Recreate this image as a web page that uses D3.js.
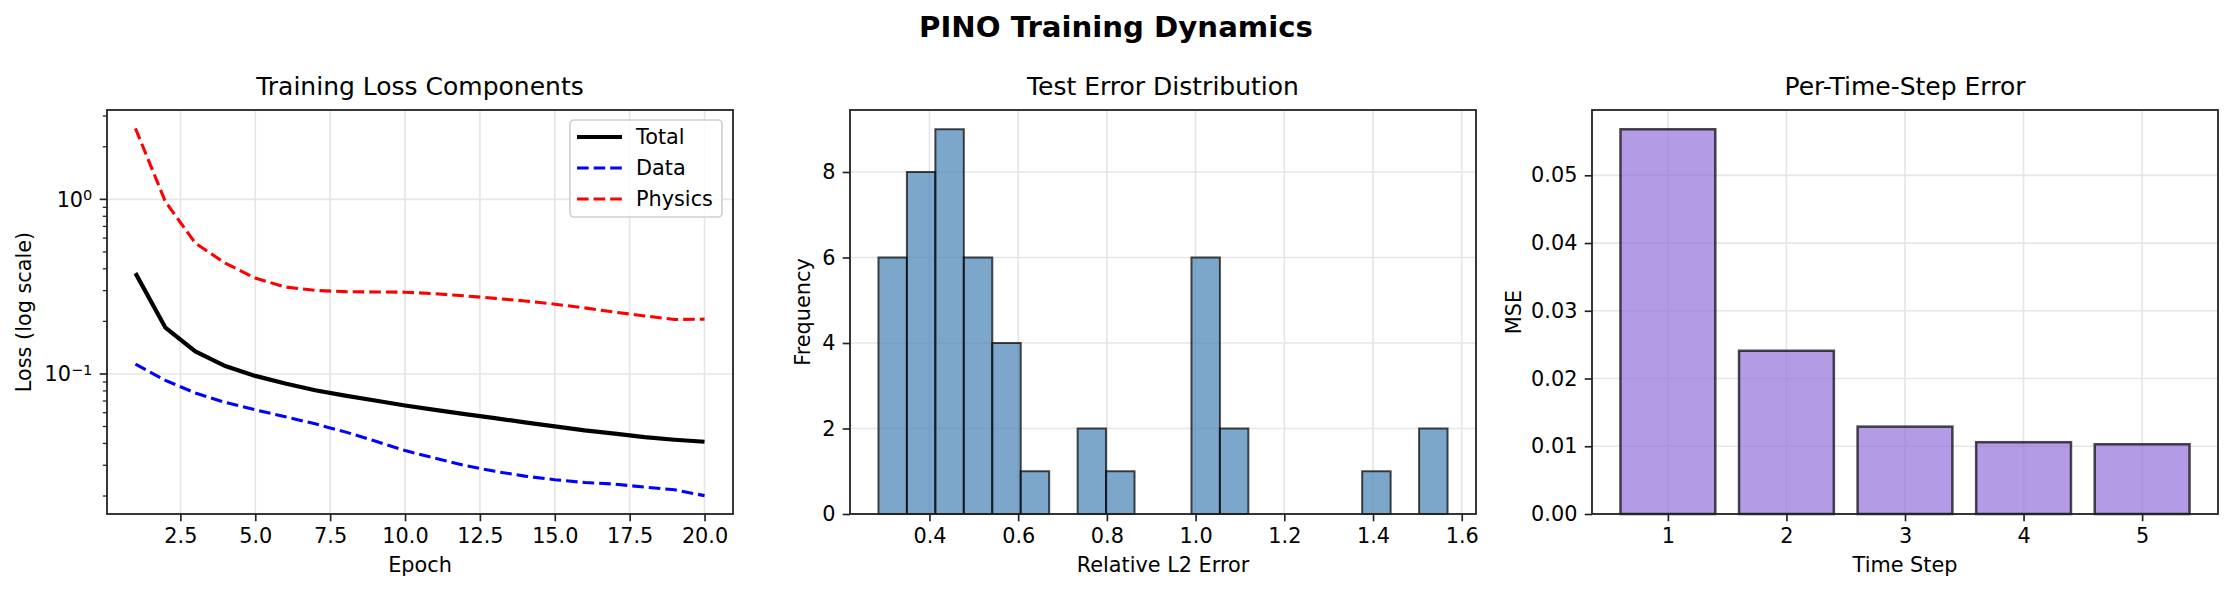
<!DOCTYPE html>
<html>
<head>
<meta charset="utf-8">
<script src="https://cdn.jsdelivr.net/npm/d3@7"></script>
<style>
  body { margin: 0; background: #fff; }
  svg text { font-family: "DejaVu Sans", sans-serif; fill: #000; }
</style>
</head>
<body>
<svg id="chart" width="2233" height="593"></svg>
<script>
// Data
var epochs = [1,2,3,4,5,6,7,8,9,10,11,12,13,14,15,16,17,18,19,20];
var totalLoss = [0.378,0.184,0.1346,0.111,0.0975,0.0881,0.0807,0.0752,0.0705,0.0660,0.0623,0.0589,0.0559,0.0528,0.0501,0.0475,0.0455,0.0435,0.0420,0.0409];
var dataLoss = [0.1138,0.0919,0.0778,0.0687,0.0623,0.0569,0.0518,0.0466,0.0413,0.0364,0.0329,0.0299,0.0277,0.0260,0.0248,0.0239,0.0234,0.0225,0.0217,0.0201];
var physicsLoss = [2.55,0.97,0.561,0.431,0.354,0.315,0.301,0.296,0.295,0.294,0.288,0.280,0.271,0.262,0.251,0.239,0.226,0.215,0.205,0.206];
var lossTicks = [2.5,5.0,7.5,10.0,12.5,15.0,17.5,20.0];

var histMin = 0.285, histMax = 1.568;
var histCounts = [6,8,9,6,4,1,0,2,1,0,0,6,2,0,0,0,0,1,0,2];
var histXTicks = [0.4,0.6,0.8,1.0,1.2,1.4,1.6];
var histYTicks = [0,2,4,6,8];

var timeSteps = [1,2,3,4,5];
var stepMse = [0.0568,0.0241,0.0129,0.0106,0.0103];
var mseTicks = [0,0.01,0.02,0.03,0.04,0.05];

// Layout
var svg = d3.select("#chart");
var panelLeft = [107, 850, 1592];
var panelTop = 110, panelW = 626, panelH = 404;
var tickLen = 7.3, tickPad = 7.3, fontPx = 20.8;
var gridColor = "#e6e6e6", spineColor = "#222";

svg.append("rect").attr("width", 2233).attr("height", 593).style("fill", "#fff");

svg.append("text")
   .attr("x", 1116).attr("y", 37)
   .attr("text-anchor", "middle")
   .style("font-size", "29.2px").style("font-weight", "bold")
   .text("PINO Training Dynamics");

var makePanel = function(i, title, xLabel, yLabel, yLabelX) {
  var g = svg.append("g").attr("transform", "translate(" + panelLeft[i] + "," + panelTop + ")");
  g.append("text").attr("x", panelW/2).attr("y", -15)
   .attr("text-anchor", "middle").style("font-size", "25px").text(title);
  g.append("text").attr("x", panelW/2).attr("y", 462)
   .attr("text-anchor", "middle").style("font-size", fontPx + "px").text(xLabel);
  g.append("text")
   .attr("transform", "translate(" + (yLabelX - panelLeft[i]) + "," + (panelH/2) + ") rotate(-90)")
   .attr("dy", "0.35em")
   .attr("text-anchor", "middle").style("font-size", fontPx + "px").text(yLabel);
  return g;
};

var styleAxis = function(sel) {
  sel.select(".domain").remove();
  sel.selectAll(".tick line").style("stroke", spineColor).style("stroke-width", 1.67);
  sel.selectAll(".tick text").style("font-size", fontPx + "px").style("font-family", "DejaVu Sans").style("fill", "#000");
};

var drawFrame = function(g) {
  g.append("rect").attr("width", panelW).attr("height", panelH)
   .style("fill", "none").style("stroke", spineColor).style("stroke-width", 1.8);
};

// ---------- Panel 1: losses (log scale)
var g1 = makePanel(0, "Training Loss Components", "Epoch", "Loss (log scale)", 24);
var eExt = d3.extent(epochs);
var ePad = (eExt[1]-eExt[0])*0.05;
var x1 = d3.scaleLinear().domain([eExt[0]-ePad, eExt[1]+ePad]).range([0, panelW]);
var allLoss = totalLoss.concat(dataLoss, physicsLoss);
var lMin = Math.log10(d3.min(allLoss)), lMax = Math.log10(d3.max(allLoss));
var lPad = (lMax - lMin)*0.05;
var y1 = d3.scaleLog().domain([Math.pow(10, lMin-lPad), Math.pow(10, lMax+lPad)]).range([panelH, 0]);

var logTicks = y1.ticks();
var majorLog = logTicks.filter(function(d) { return Math.abs(Math.log10(d) - Math.round(Math.log10(d))) < 1e-9; });
var minorLog = logTicks.filter(function(d) { return majorLog.indexOf(d) < 0; });

g1.selectAll(".gx").data(lossTicks).enter().append("line")
  .attr("x1", function(d) { return x1(d); }).attr("x2", function(d) { return x1(d); })
  .attr("y1", 0).attr("y2", panelH).style("stroke", gridColor).style("stroke-width", 1.67);
g1.selectAll(".gy").data(majorLog).enter().append("line")
  .attr("x1", 0).attr("x2", panelW)
  .attr("y1", function(d) { return y1(d); }).attr("y2", function(d) { return y1(d); })
  .style("stroke", gridColor).style("stroke-width", 1.67);

var ax1 = g1.append("g").attr("transform", "translate(0," + panelH + ")")
  .call(d3.axisBottom(x1).tickValues(lossTicks).tickFormat(d3.format(".1f")).tickSize(tickLen).tickPadding(tickPad));
styleAxis(ax1);

g1.selectAll(".minorTick").data(minorLog).enter().append("line")
  .attr("x1", -4.2).attr("x2", 0)
  .attr("y1", function(d) { return y1(d); }).attr("y2", function(d) { return y1(d); })
  .style("stroke", spineColor).style("stroke-width", 1.25);
g1.selectAll(".majorTick").data(majorLog).enter().append("line")
  .attr("x1", -tickLen).attr("x2", 0)
  .attr("y1", function(d) { return y1(d); }).attr("y2", function(d) { return y1(d); })
  .style("stroke", spineColor).style("stroke-width", 1.67);
var majorLabels = g1.selectAll(".majorLabel").data(majorLog).enter().append("text")
  .attr("x", -tickLen - tickPad)
  .attr("y", function(d) { return y1(d); })
  .attr("dy", "0.35em")
  .attr("text-anchor", "end")
  .style("font-size", fontPx + "px");
majorLabels.append("tspan").text("10");
majorLabels.append("tspan")
  .attr("dy", "-0.45em")
  .style("font-size", "14.6px")
  .text(function(d) { var p = Math.round(Math.log10(d)); return p < 0 ? "\u2212" + (-p) : "" + p; });

var line1 = function(vals) {
  return d3.line().x(function(d, i) { return x1(epochs[i]); }).y(function(d) { return y1(d); })(vals);
};
var lossSeries = [
  { name: "Total", vals: totalLoss, color: "#000", width: 4.2, dash: null },
  { name: "Data", vals: dataLoss, color: "#0000ff", width: 3.1, dash: "11.6,5" },
  { name: "Physics", vals: physicsLoss, color: "#ff0000", width: 3.1, dash: "11.6,5" }
];
lossSeries.forEach(function(s) {
  g1.append("path").attr("d", line1(s.vals))
    .style("fill", "none").style("stroke", s.color).style("stroke-width", s.width)
    .style("stroke-dasharray", s.dash);
});
drawFrame(g1);

// Legend
var leg = g1.append("g").attr("transform", "translate(463,10)");
leg.append("rect").attr("width", 152).attr("height", 97).attr("rx", 4)
   .style("fill", "#fff").style("fill-opacity", 0.8).style("stroke", "#d0d0d0").style("stroke-width", 1.67);
lossSeries.forEach(function(s, i) {
  var yy = 17 + i*31;
  leg.append("line").attr("x1", 7).attr("x2", 52).attr("y1", yy).attr("y2", yy)
     .style("stroke", s.color).style("stroke-width", s.width).style("stroke-dasharray", s.dash);
  leg.append("text").attr("x", 66).attr("y", yy).attr("dy", "0.35em")
     .style("font-size", fontPx + "px").text(s.name);
});

// ---------- Panel 2: histogram
var g2 = makePanel(1, "Test Error Distribution", "Relative L2 Error", "Frequency", 803);
var hPad = (histMax - histMin)*0.05;
var x2 = d3.scaleLinear().domain([histMin - hPad, histMax + hPad]).range([0, panelW]);
var y2 = d3.scaleLinear().domain([0, d3.max(histCounts)*1.05]).range([panelH, 0]);
var binW = (histMax - histMin)/histCounts.length;

g2.selectAll(".gx").data(histXTicks).enter().append("line")
  .attr("x1", function(d) { return x2(d); }).attr("x2", function(d) { return x2(d); })
  .attr("y1", 0).attr("y2", panelH).style("stroke", gridColor).style("stroke-width", 1.67);
g2.selectAll(".gy").data(histYTicks).enter().append("line")
  .attr("x1", 0).attr("x2", panelW)
  .attr("y1", function(d) { return y2(d); }).attr("y2", function(d) { return y2(d); })
  .style("stroke", gridColor).style("stroke-width", 1.67);

var bins = histCounts.map(function(c, i) { return { x0: histMin + i*binW, x1: histMin + (i+1)*binW, count: c }; })
  .filter(function(d) { return d.count > 0; });
g2.selectAll(".bar").data(bins).enter().append("rect")
  .attr("x", function(d) { return x2(d.x0); })
  .attr("width", function(d) { return x2(d.x1) - x2(d.x0); })
  .attr("y", function(d) { return y2(d.count); })
  .attr("height", function(d) { return y2(0) - y2(d.count); })
  .style("fill", "steelblue").style("fill-opacity", 0.7)
  .style("stroke", "#000").style("stroke-opacity", 0.7).style("stroke-width", 2);

var ax2x = g2.append("g").attr("transform", "translate(0," + panelH + ")")
  .call(d3.axisBottom(x2).tickValues(histXTicks).tickFormat(d3.format(".1f")).tickSize(tickLen).tickPadding(tickPad));
styleAxis(ax2x);
var ax2y = g2.append("g")
  .call(d3.axisLeft(y2).tickValues(histYTicks).tickFormat(d3.format("d")).tickSize(tickLen).tickPadding(tickPad));
styleAxis(ax2y);
drawFrame(g2);

// ---------- Panel 3: per-step MSE
var g3 = makePanel(2, "Per-Time-Step Error", "Time Step", "MSE", 1514);
var barHalf = 0.4;
var sExt = [d3.min(timeSteps) - barHalf, d3.max(timeSteps) + barHalf];
var sPad = (sExt[1]-sExt[0])*0.05;
var x3 = d3.scaleLinear().domain([sExt[0]-sPad, sExt[1]+sPad]).range([0, panelW]);
var y3 = d3.scaleLinear().domain([0, d3.max(stepMse)*1.05]).range([panelH, 0]);

g3.selectAll(".gx").data(timeSteps).enter().append("line")
  .attr("x1", function(d) { return x3(d); }).attr("x2", function(d) { return x3(d); })
  .attr("y1", 0).attr("y2", panelH).style("stroke", gridColor).style("stroke-width", 1.67);
g3.selectAll(".gy").data(mseTicks).enter().append("line")
  .attr("x1", 0).attr("x2", panelW)
  .attr("y1", function(d) { return y3(d); }).attr("y2", function(d) { return y3(d); })
  .style("stroke", gridColor).style("stroke-width", 1.67);

g3.selectAll(".bar").data(stepMse).enter().append("rect")
  .attr("x", function(d, i) { return x3(timeSteps[i] - barHalf); })
  .attr("width", function(d, i) { return x3(timeSteps[i] + barHalf) - x3(timeSteps[i] - barHalf); })
  .attr("y", function(d) { return y3(d); })
  .attr("height", function(d) { return y3(0) - y3(d); })
  .style("fill", "mediumpurple").style("fill-opacity", 0.7)
  .style("stroke", "#000").style("stroke-opacity", 0.7).style("stroke-width", 2.5);

var ax3x = g3.append("g").attr("transform", "translate(0," + panelH + ")")
  .call(d3.axisBottom(x3).tickValues(timeSteps).tickFormat(d3.format("d")).tickSize(tickLen).tickPadding(tickPad));
styleAxis(ax3x);
var ax3y = g3.append("g")
  .call(d3.axisLeft(y3).tickValues(mseTicks).tickFormat(d3.format(".2f")).tickSize(tickLen).tickPadding(tickPad));
styleAxis(ax3y);
drawFrame(g3);
</script>
</body>
</html>
